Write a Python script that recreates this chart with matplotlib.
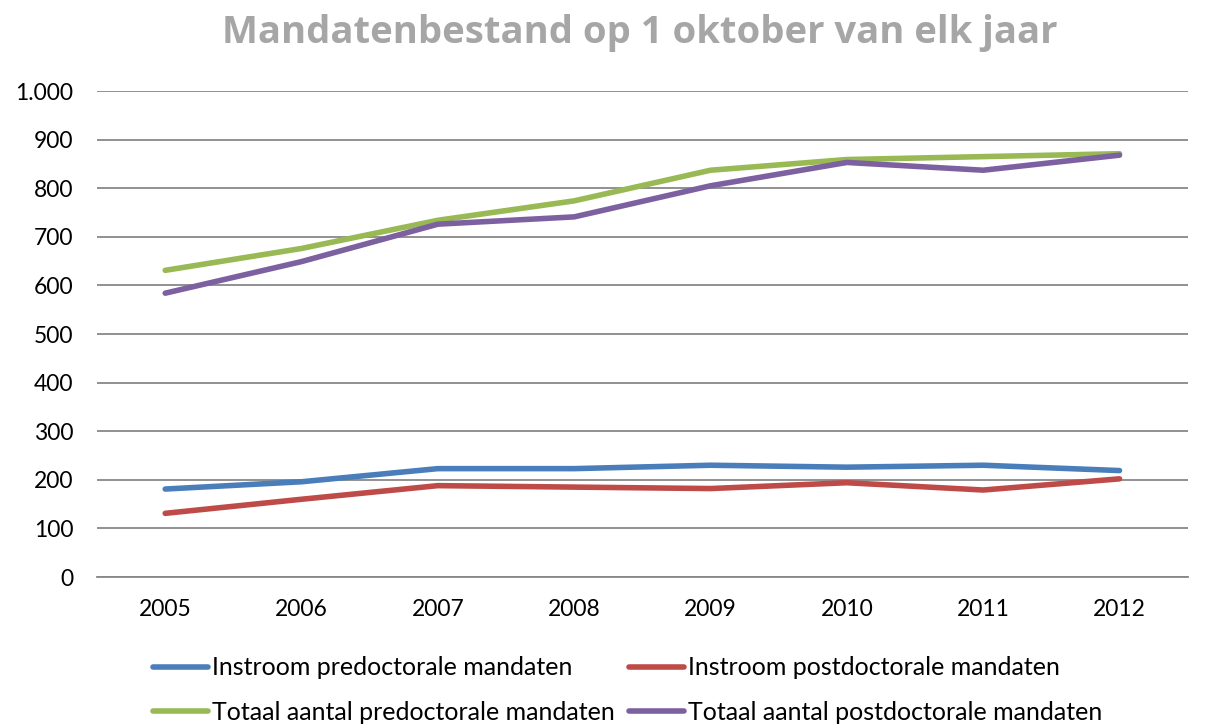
import numpy as np
import matplotlib.pyplot as plt
from matplotlib.ticker import FuncFormatter

plt.rcParams['font.family'] = ['Lato', 'DejaVu Sans']

years = ['2005', '2006', '2007', '2008', '2009', '2010', '2011', '2012']
instroom_pre = [181, 196, 223, 223, 230, 226, 230, 219]
instroom_post = [131, 160, 188, 185, 182, 194, 179, 202]
totaal_pre = [631, 676, 734, 774, 837, 859, 865, 871]
totaal_post = [584, 649, 726, 741, 805, 853, 837, 868]

series = [
    ('Instroom predoctorale mandaten', instroom_pre, '#4a7ebb'),
    ('Instroom postdoctorale mandaten', instroom_post, '#be4b48'),
    ('Totaal aantal predoctorale mandaten', totaal_pre, '#98b954'),
    ('Totaal aantal postdoctorale mandaten', totaal_post, '#7d60a0'),
]

fig = plt.figure(figsize=(12.07, 7.28), dpi=100)
ax = fig.add_axes([0.0804, 0.2074, 0.9036, 0.6676])

x = np.arange(len(years))
lines = []
for label, vals, color in series:
    ln, = ax.plot(x, vals, color=color, linewidth=4.0, label=label, solid_capstyle='round')
    lines.append(ln)

ax.set_xlim(-0.5, len(years) - 0.5)
ax.set_ylim(0, 1000)
ax.set_yticks(np.arange(0, 1001, 100))
ax.yaxis.set_major_formatter(FuncFormatter(lambda v, p: f'{int(v):,}'.replace(',', '.')))
ax.set_xticks(x)
ax.set_xticklabels(years)
ax.grid(axis='y', color='#888888', linewidth=1.3)
ax.set_axisbelow(True)
for s in ['top', 'right', 'left']:
    ax.spines[s].set_visible(False)
ax.spines['bottom'].set_color('#888888')
ax.spines['bottom'].set_linewidth(1.3)
ax.tick_params(axis='both', length=0, labelsize=16.5, colors='black')
ax.tick_params(axis='y', pad=17)
ax.tick_params(axis='x', pad=16)

fig.text(0.530, 0.955, 'Mandatenbestand op 1 oktober van elk jaar', ha='center', va='center',
         fontsize=27.5, fontweight='bold', color='#a6a6a6', family=['Open Sans', 'DejaVu Sans'])

# row-major order: blue, red / green, purple
order = [0, 2, 1, 3]
fig.legend([lines[i] for i in order], [series[i][0] for i in order],
           loc='lower left', bbox_to_anchor=(0.108, -0.025), ncol=2, frameon=False,
           fontsize=18, handlelength=2.2, handletextpad=0.15, columnspacing=0.6,
           labelspacing=0.85)

fig.savefig('out.png', dpi=100)
